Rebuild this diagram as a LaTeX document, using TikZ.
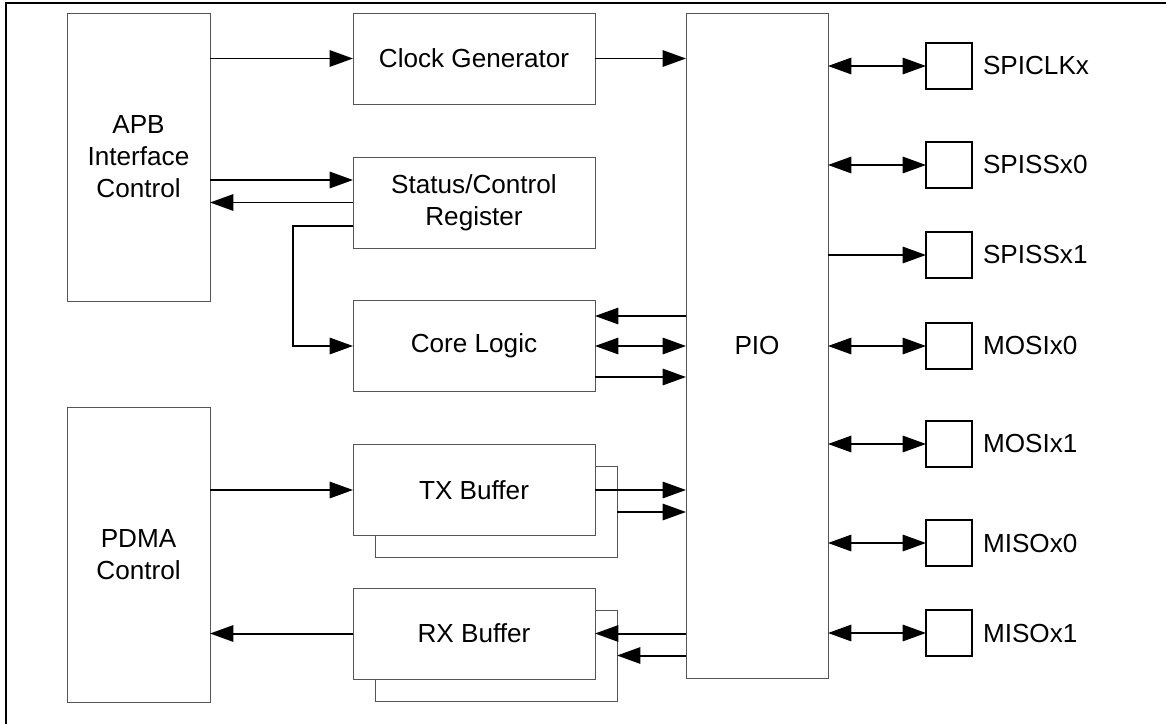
\documentclass[tikz,border=0pt]{standalone}
\usepackage{fontspec}
\setmainfont{Liberation Sans}
\usepackage{tikz}
\usetikzlibrary{arrows.meta,calc,positioning}
\pgfdeclarelayer{bg}
\pgfsetlayers{bg,main}
\definecolor{boxstroke}{HTML}{555555}
\definecolor{wirecolor}{HTML}{000000}
\newcommand{\pxu}{0.03cm}

\begin{document}
\begin{tikzpicture}[
  x=0.03cm,
  y=-0.03cm,
  >={Triangle[length=20pt,width=14pt]},
  every node/.style={
    rectangle,
    inner sep=0pt,
    outer sep=0pt,
    align=center,
    font=\fontsize{22.3}{27.3}\selectfont
  },
  block/.style={
    draw=boxstroke,
    fill=white,
    line width=0.85pt
  },
  ctrl/.style={
    block,
    minimum width=143*\pxu
  },
  unit/.style={
    block,
    minimum width=242*\pxu,
    minimum height=91*\pxu
  },
  pin/.style={
    draw=black,
    fill=white,
    line width=1.2pt,
    minimum width=46*\pxu,
    minimum height=46*\pxu
  },
  pinlabel/.style={
    anchor=west
  },
  wire/.style={
    draw=wirecolor,
    line width=1.7pt,
    ->
  },
  duplex/.style={
    draw=wirecolor,
    line width=1.7pt,
    <->
  },
  frame/.style={
    draw=black,
    line width=1.7pt
  }
]

\useasboundingbox (0,0) rectangle (1166,724);

% Outer frame
\coordinate (frametop) at (1166,3);
\coordinate (framebot) at (6,724);
\draw[frame] (framebot) |- (frametop);

% Controllers
\node[ctrl, minimum height=288*\pxu] (apb)  at (138.5,157)   {APB\\Interface\\Control};
\node[ctrl, minimum height=295*\pxu] (pdma) at (138.5,554.5) {PDMA\\Control};

% Units
\node[unit] (clk)  at (474,58.5)  {Clock Generator};
\node[unit] (stat) at (474,202.5) {Status/Control\\Register};
\node[unit] (core) at (474,346)   {Core Logic};
\node[unit] (tx)   at (474,490)   {TX Buffer};
\node[unit] (rx)   at (474,633.5) {RX Buffer};

% PIO
\node[block, minimum width=142*\pxu, minimum height=665*\pxu] (pio) at (757,345.5) {PIO};

% Pins
\foreach \pname/\py [count=\i] in {SPICLKx/66, SPISSx0/165, SPISSx1/255, MOSIx0/346, MOSIx1/444, MISOx0/543, MISOx1/633} {
  \node[pin] (pin\i) at (949,\py) {};
  \node[pinlabel, right=0.33cm of pin\i] (lbl\i) {\pname};
}

\begin{pgfonlayer}{bg}
% Second buffer stages
\node[unit] (txs) at ($(tx)+(22,22)$) {};
\node[unit] (rxs) at ($(rx)+(22,22)$) {};
\end{pgfonlayer}

% Clock path
\draw[wire] (clk.west -| apb.east) -- (clk.west);
\draw[wire] (clk.east) -- (clk.east -| pio.west);

% Status/Control register
\coordinate (statin)  at ($(stat.west)+(0,-22.5)$);
\coordinate (statout) at ($(stat.west)+(0,23.5)$);
\draw[wire] (statin -| apb.east) -- (statin);
\draw[wire] (stat.west) -- (stat.west -| apb.east);
\draw[wire] (statout) -- ++(-60,0) |- (core.west);

% Core logic
\coordinate (corein)  at ($(core.east)+(0,-30)$);
\coordinate (coreout) at ($(core.east)+(0,31)$);
\draw[wire] (corein -| pio.west) -- (corein);
\draw[duplex] (core.east) -- (core.east -| pio.west);
\draw[wire] (coreout) -- (coreout -| pio.west);

% Buffers
\draw[wire] (tx.west -| pdma.east) -- (tx.west);
\draw[wire] (tx.east) -- (tx.east -| pio.west);
\draw[wire] (txs.east) -- (txs.east -| pio.west);
\draw[wire] (rx.west) -- (rx.west -| pdma.east);
\draw[wire] (rx.east -| pio.west) -- (rx.east);
\draw[wire] (rxs.east -| pio.west) -- (rxs.east);

% Pin connections
\foreach \i in {1,2,4,5,6,7} {
  \draw[duplex] (pin\i.west -| pio.east) -- (pin\i.west);
}
\draw[wire] (pin3.west -| pio.east) -- (pin3.west);

\end{tikzpicture}
\end{document}
